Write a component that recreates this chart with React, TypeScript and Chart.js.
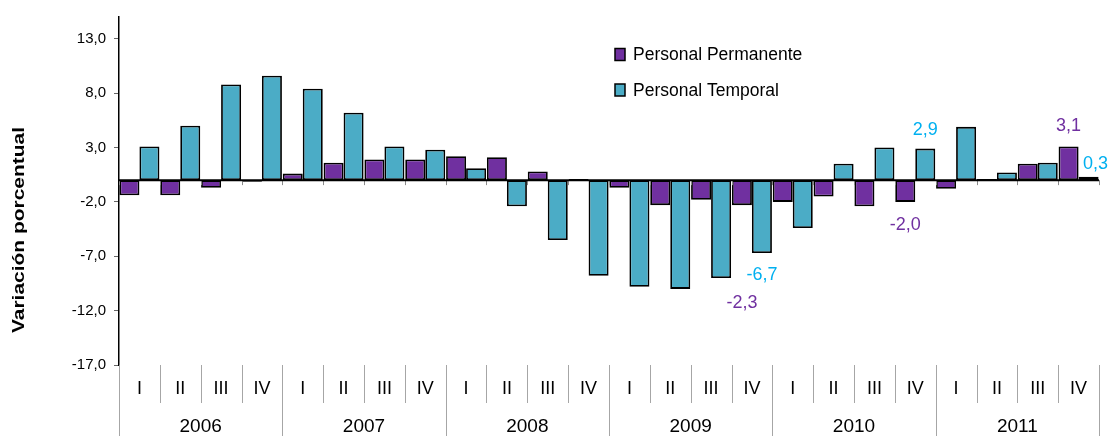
import React, { useEffect, useRef } from 'react';
import { Chart, registerables } from 'chart.js';

Chart.register(...registerables);

// ---- data ----
const years = ['2006', '2007', '2008', '2009', '2010', '2011'];
const quarters = ['I', 'II', 'III', 'IV'];
const categories = years.flatMap((y) => quarters.map((q) => `${q} ${y}`));

const permanente = [
  -1.4, -1.4, -0.7, -0.15,
  0.6, 1.6, 1.9, 1.9,
  2.2, 2.1, 0.8, 0.1,
  -0.7, -2.3, -1.8, -2.3,
  -2.0, -1.5, -2.4, -2.0,
  -0.8, 0.1, 1.5, 3.1,
];
const temporal = [
  3.1, 5.0, 8.8, 9.6,
  8.4, 6.2, 3.1, 2.8,
  1.1, -2.4, -5.5, -8.8,
  -9.8, -10.0, -9.0, -6.7,
  -4.4, 1.5, 3.0, 2.9,
  4.9, 0.7, 1.6, 0.3,
];
const yTicks = [-17, -12, -7, -2, 3, 8, 13];
const seriesNames = ['Personal Permanente', 'Personal Temporal'];
const yTitle = 'Variación porcentual';

// which bars carry a value label (dataset index, category index)
const labelledBars = [
  { ds: 0, idx: 15 },
  { ds: 1, idx: 15 },
  { ds: 0, idx: 19 },
  { ds: 1, idx: 19 },
  { ds: 0, idx: 23 },
  { ds: 1, idx: 23 },
];

// ---- styles ----
const FONT = "'Liberation Sans', Arial, Helvetica, sans-serif";
const barColors = ['#7030A0', '#4BACC6'];
const labelColors = ['#7030A0', '#00B0F0'];
// pixel offsets of value labels from the bar end
const labelOffsets = [
  { dx: 0, dy: 98 },
  { dx: 0, dy: 22 },
  { dx: 0, dy: 23 },
  { dx: 0, dy: -19 },
  { dx: 0, dy: -20 },
  { dx: 7, dy: -13 },
];

const fmt = (v: number) => v.toFixed(1).replace('.', ',');

const decorPlugin = {
  id: 'decor',
  afterDatasetsDraw(chart: any) {
    const { ctx, chartArea, scales } = chart;
    const x = scales.x;
    const y = scales.y;
    const n = categories.length;
    const step = x.getPixelForValue(1) - x.getPixelForValue(0);
    const half = step / 2;
    const y0 = y.getPixelForValue(0);
    const H = chart.height;
    ctx.save();

    // boundary tick marks under the zero line
    ctx.strokeStyle = '#8a8a8a';
    ctx.lineWidth = 1;
    for (let i = 0; i <= n; i++) {
      const bx = Math.round(x.getPixelForValue(i) - half) + 0.5;
      ctx.beginPath();
      ctx.moveTo(bx, y0);
      ctx.lineTo(bx, y0 + 5);
      ctx.stroke();
    }

    // zero line
    ctx.strokeStyle = '#000';
    ctx.lineWidth = 2;
    ctx.beginPath();
    ctx.moveTo(chartArea.left, y0);
    ctx.lineTo(chartArea.right, y0);
    ctx.stroke();

    // category area below the plot
    const top = chartArea.bottom;
    ctx.strokeStyle = '#a6a6a6';
    ctx.lineWidth = 1;
    for (let i = 0; i <= n; i++) {
      const bx = Math.round(x.getPixelForValue(i) - half) + 0.5;
      const isYear = i % quarters.length === 0;
      ctx.beginPath();
      ctx.moveTo(bx, top);
      ctx.lineTo(bx, isYear ? H : top + 38);
      ctx.stroke();
    }
    ctx.fillStyle = '#000';
    ctx.textAlign = 'center';
    ctx.textBaseline = 'middle';
    ctx.font = `18px ${FONT}`;
    for (let i = 0; i < n; i++) {
      ctx.fillText(quarters[i % quarters.length], x.getPixelForValue(i), top + 24);
    }
    ctx.font = `19px ${FONT}`;
    years.forEach((yr, k) => {
      const a = x.getPixelForValue(k * 4) - half;
      const b = x.getPixelForValue(k * 4 + 3) + half;
      ctx.fillText(yr, (a + b) / 2, top + 62);
    });

    // value labels
    ctx.font = `18px ${FONT}`;
    labelledBars.forEach((lb, k) => {
      const meta = chart.getDatasetMeta(lb.ds);
      const el = meta.data[lb.idx];
      const v = chart.data.datasets[lb.ds].data[lb.idx] as number;
      const off = labelOffsets[k];
      ctx.fillStyle = labelColors[lb.ds];
      ctx.fillText(fmt(v), el.x + off.dx, el.y + off.dy);
    });

    // legend
    ctx.textAlign = 'left';
    ctx.font = `17.5px ${FONT}`;
    const legX = 615;
    const legY = [54.5, 90];
    chart.data.datasets.forEach((ds: any, i: number) => {
      ctx.fillStyle = ds.backgroundColor;
      ctx.fillRect(legX, legY[i] - 6, 10, 12);
      ctx.strokeStyle = '#000';
      ctx.lineWidth = 1.5;
      ctx.strokeRect(legX, legY[i] - 6, 10, 12);
      ctx.fillStyle = '#000';
      ctx.fillText(ds.label, legX + 18, legY[i] + 1);
    });

    // y axis title
    ctx.font = `bold 17px ${FONT}`;
    const w = ctx.measureText(yTitle).width;
    ctx.translate(19, 230);
    ctx.rotate(-Math.PI / 2);
    ctx.scale(206 / w, 1);
    ctx.textAlign = 'center';
    ctx.fillStyle = '#000';
    ctx.fillText(yTitle, 0, 0);

    ctx.restore();
  },
};

export default function App() {
  const ref = useRef<HTMLCanvasElement | null>(null);

  useEffect(() => {
    document.body.style.margin = '0';
    const canvas = ref.current;
    if (!canvas) return;
    Chart.defaults.font.family = FONT;
    const chart = new Chart(canvas, {
      type: 'bar',
      data: {
        labels: categories,
        datasets: [
          {
            label: seriesNames[0],
            data: permanente,
            backgroundColor: barColors[0],
            borderColor: '#000',
            borderWidth: 1.8,
            borderSkipped: false,
          },
          {
            label: seriesNames[1],
            data: temporal,
            backgroundColor: barColors[1],
            borderColor: '#000',
            borderWidth: 1.8,
            borderSkipped: false,
          },
        ],
      },
      options: {
        responsive: false,
        animation: false,
        events: [],
        layout: { padding: { left: 0, right: 10, top: 14, bottom: 71 } },
        datasets: {
          bar: { categoryPercentage: 0.98, barPercentage: 1 },
        },
        plugins: {
          legend: { display: false },
          tooltip: { enabled: false },
          title: { display: false },
        },
        scales: {
          x: { display: false },
          y: {
            min: -17,
            max: 15,
            afterBuildTicks: (scale: any) => {
              scale.ticks = yTicks.map((v) => ({ value: v }));
            },
            afterFit: (scale: any) => {
              scale.width = 119;
            },
            border: { display: true, color: '#000', width: 1.5 },
            grid: {
              display: true,
              drawOnChartArea: false,
              drawTicks: true,
              tickLength: 5,
              color: '#666',
            },
            ticks: {
              padding: 8,
              color: '#000',
              font: { size: 15, family: FONT },
              callback: (v: any) => fmt(Number(v)),
            },
          },
        },
      },
      plugins: [decorPlugin],
    });
    return () => chart.destroy();
  }, []);

  return (
    <div style={{ width: 1109, height: 436 }}>
      <canvas ref={ref} width={1109} height={436} />
    </div>
  );
}
